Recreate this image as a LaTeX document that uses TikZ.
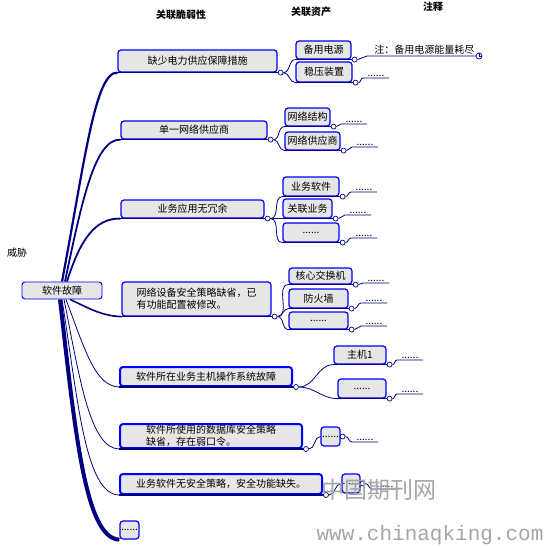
\documentclass[tikz,border=0pt]{standalone}
\usepackage{fontspec}
\setmainfont{Noto Sans CJK SC}
\newfontfamily\wmfont{Liberation Mono}
\usetikzlibrary{positioning, calc, backgrounds}
\definecolor{boxgray}{HTML}{E6E6E6}
\definecolor{navyl}{HTML}{000080}

\begin{document}
\begin{tikzpicture}[x=1pt,y=-1pt,font=\fontsize{10}{12}\selectfont,
  v/.style={draw=blue,fill=boxgray,rounded corners=3pt,line width=1.2pt,inner sep=0pt,align=left},
  k/.style={circle,draw=navyl,fill=white,line width=0.7pt,inner sep=0pt,minimum size=5pt},
  br/.style={draw=navyl,line width=0.8pt},
  ul/.style={draw=navyl,line width=1.4pt},
  nt/.style={anchor=south east,xshift=-3pt,inner sep=1.5pt},
  hd/.style={font=\fontsize{10}{12}\selectfont\bfseries}]
  \useasboundingbox (0,0) rectangle (545,548);
  \node[hd](h1) at (181,15){关联脆弱性};
  \node[hd](h2) at (311,12){关联资产};
  \node[hd](h3) at (433,7){注释};
  \node(wx) at (17,253){威胁};

  \node[v,line width=0.9pt,minimum width=80,minimum height=17](gz) at (62,290.5){软件故障};

  \node[v,minimum width=159,minimum height=22](dl) at (197.5,61){缺少电力供应保障措施};
  \node[v,minimum width=146,minimum height=18](gy) at (194,130){单一网络供应商};
  \node[v,minimum width=143,minimum height=18](ry) at (192.5,209){业务应用无冗余};
  \node[v,minimum width=149,minimum height=34](sb) at (196.5,299){网络设备安全策略缺省，已\\有功能配置被修改。};
  \node[v,line width=2pt,minimum width=172,minimum height=19](zj) at (206,376.5){软件所在业务主机操作系统故障};
  \node[v,line width=2pt,minimum width=182,minimum height=24](sj) at (211,436){软件所使用的数据库安全策略\\缺省，存在弱口令。};
  \node[v,line width=2pt,minimum width=202,minimum height=20](aq) at (221,484){业务软件无安全策略，安全功能缺失。};
  \node[v,minimum width=19,minimum height=18](qt) at (129.5,530){......};

  \node[v,minimum width=55,minimum height=18](by) at (323.5,50){备用电源};
  \node[v,minimum width=56,minimum height=20](wy) at (324,72){稳压装置};
  \node[v,minimum width=45,minimum height=18](jg) at (307.5,117){网络结构};
  \node[v,minimum width=55,minimum height=18](ws) at (312.5,141){网络供应商};
  \node[v,minimum width=56,minimum height=19](rj) at (311,186.5){业务软件};
  \node[v,minimum width=49,minimum height=19](yw) at (307.5,208.5){关联业务};
  \node[v,minimum width=56,minimum height=19](d3) at (311,232.5){......};
  \node[v,minimum width=63,minimum height=16](jh) at (320.5,276){核心交换机};
  \node[v,minimum width=59,minimum height=19](fh) at (318.5,298.5){防火墙};
  \node[v,minimum width=59,minimum height=17](d4) at (318.5,320.5){......};
  \node[v,minimum width=52,minimum height=18](zj1) at (360,355){主机1};
  \node[v,minimum width=48,minimum height=19](d5) at (362,388.5){......};
  \node[v,minimum width=19,minimum height=19](d6) at (330.5,436.5){......};
  \node[v,minimum width=18,minimum height=19](d7) at (351,483.5){......};

  \foreach \n in {dl,gy,ry,sb,zj,sj,aq}
    \draw[ul](\n.south west)--([xshift=3pt]\n.south east) node[k](k\n){};
  \foreach \n in {by,wy,jg,ws,rj,yw,d3,jh,fh,d4,zj1,d5}
    \draw[ul,line width=1pt](\n.south west)--([xshift=3pt]\n.south east) node[k](k\n){};
  \node[k](kd6) at ([xshift=2pt]d6.east){};
  \node[k](kd7) at ([xshift=2pt]d7.east){};

  \coordinate(eby) at (479,56);  \coordinate(ewy) at (389,78);
  \coordinate(ejg) at (367,124); \coordinate(ews) at (378,147);
  \coordinate(erj) at (377,192); \coordinate(eyw) at (371,215);
  \coordinate(ed3) at (377,238); \coordinate(ejh) at (389,283);
  \coordinate(efh) at (387,303); \coordinate(ed4) at (387,326);
  \coordinate(ezj1) at (423,360); \coordinate(ed5) at (423,394);
  \coordinate(ed6) at (378,442); \coordinate(ed7) at (398,489);
  \node[nt](nby) at (eby){注：备用电源能量耗尽};
  \foreach \n in {wy,jg,ws,rj,yw,d3,jh,fh,d4,zj1,d5,d6,d7}
    \node[nt](n\n) at (e\n){......};
  \node[k,minimum size=6pt](xby) at (eby){};
  \draw[navyl,line width=0.6pt](xby.north)--(xby.center)--(xby.east);

  \begin{scope}[on background layer]
    \fill[white](0,0) rectangle (545,548);
    \draw[br,line width=2.2pt](gz.north) .. controls (85,160) and (95,72) .. (dl.south west);
    \draw[br,line width=1.8pt]([xshift=3pt]gz.north) .. controls (82,200) and (95,139) .. (gy.south west);
    \draw[br,line width=1.8pt]([xshift=5pt]gz.north) .. controls (80,240) and (95,218) .. (ry.south west);
    \draw[br,line width=1.6pt]([xshift=8pt]gz.south) .. controls (85,306) and (100,316) .. (sb.south west);
    \draw[br]([xshift=4pt]gz.south) .. controls (85,350) and (95,386) .. (zj.south west);
    \draw[br]([xshift=2pt]gz.south) .. controls (80,380) and (90,448) .. (sj.south west);
    \draw[br](gz.south) .. controls (78,400) and (85,494) .. (aq.south west);
    \draw[br,line width=4pt]([xshift=-2pt]gz.south) .. controls (75,430) and (85,539) .. (qt.south west);

    \foreach \a in {by,wy} \draw[br](kdl) to[out=0,in=180] (\a.south west);
    \foreach \a in {jg,ws} \draw[br](kgy) to[out=0,in=180] (\a.south west);
    \foreach \a in {rj,yw,d3} \draw[br](kry) to[out=0,in=180] (\a.south west);
    \foreach \a in {jh,fh,d4} \draw[br](ksb) to[out=0,in=180] (\a.south west);
    \foreach \a in {zj1,d5} \draw[br](kzj) to[out=0,in=180] (\a.south west);
    \draw[br](ksj) to[out=0,in=180] (d6.west);
    \draw[br](kaq) to[out=0,in=180] (d7.west);

    \draw[br](kby) to[out=0,in=180] ($(eby)+(-112,0)$)--(eby);
    \foreach \n in {wy,jg,ws,rj,yw,d3,jh,fh,d4,zj1,d5,d6,d7}
      \draw[br](k\n) to[out=0,in=180] ($(e\n)+(-26,0)$)--(e\n);
  \end{scope}

  \node[text=black!35,font=\fontsize{23}{23}\selectfont](wm) at (379,490){中国期刊网};
  \node[text=black!35,font=\wmfont\fontsize{21}{21}\selectfont](url) at (430,535){www.chinaqking.com};
\end{tikzpicture}
\end{document}
